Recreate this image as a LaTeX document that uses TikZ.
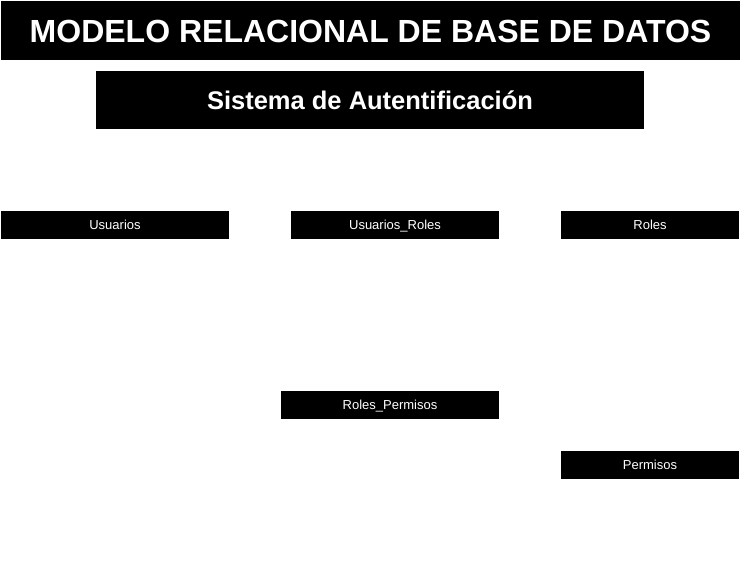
\documentclass[tikz,border=0pt]{standalone}
\usepackage{fontspec}
\setmainfont{Liberation Sans}
\usetikzlibrary{positioning}

\begin{document}
\begin{tikzpicture}[
	  x=1pt,
	  y=-1pt,
	  every node/.style={font=\rmfamily, text=white, inner sep=0pt},
	  header/.style={
		  fill=black,
		  minimum height=59pt,
		  text height=23pt,
		  text depth=0pt,
		  font=\bfseries\fontsize{32}{36}\selectfont
	  },
	  subheader/.style={
		  fill=black,
		  minimum height=58pt,
		  text height=18pt,
		  text depth=0pt,
		  font=\bfseries\fontsize{25.5}{30}\selectfont
	  },
	  table/.style={
		  fill=black,
		  minimum height=28pt,
		  text height=9.3pt,
		  text depth=0pt,
		  font=\fontsize{13}{15}\selectfont
	  }
  ]

  \useasboundingbox (0,0) rectangle (741,571);

  % Titles
  \node [
	  header,
	  minimum width=739pt
  ] (title) at (370.5,30.5) {MODELO RELACIONAL DE BASE DE DATOS};
  \node [
	  subheader,
	  minimum width=548pt
  ] (system) at (370,100) {Sistema de Autentificación};

  % Tables
  \node [
	  table,
	  minimum width=228pt
  ] (usuarios) at (115,225) {Usuarios};
  \node [
	  table,
	  minimum width=208pt
  ] (usuariosroles) at (395,225) {Usuarios\_Roles};
  \node [
	  table,
	  minimum width=178pt
  ] (roles) at (650,225) {Roles};
  \node [
	  table,
	  minimum width=218pt
  ] (rolespermisos) at (390,405) {Roles\_Permisos};
  \node [
	  table,
	  minimum width=178pt
  ] (permisos) at (650,465) {Permisos};

\end{tikzpicture}
\end{document}
